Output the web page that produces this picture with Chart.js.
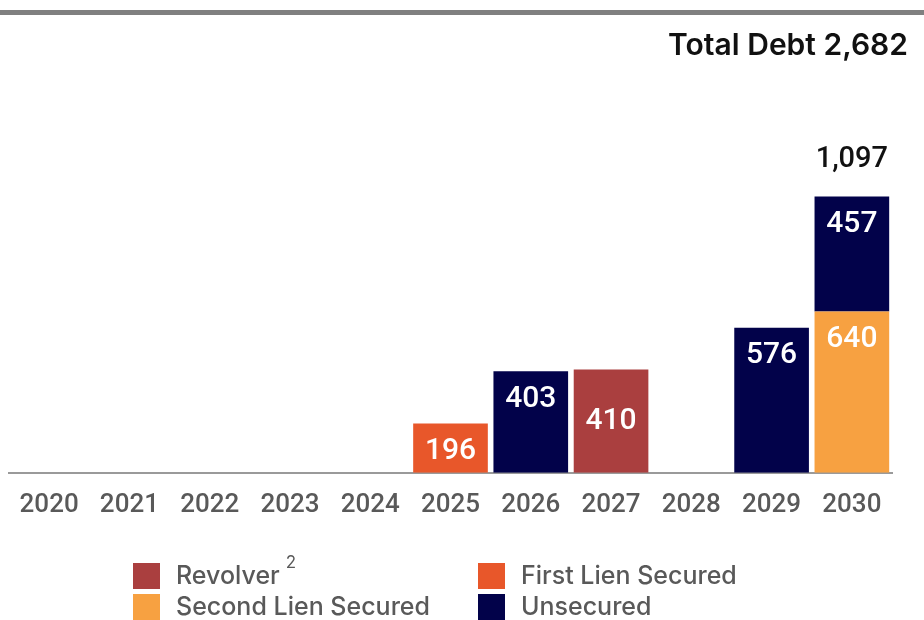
<!DOCTYPE html>
<html>
<head>
<meta charset="utf-8">
<script src="https://cdn.jsdelivr.net/npm/chart.js@4/dist/chart.umd.min.js"></script>
<style>
  html, body { margin: 0; padding: 0; background: #fff; }
  #wrap { width: 924px; height: 620px; position: relative; }
</style>
</head>
<body>
<div id="wrap"><canvas id="debtChart"></canvas></div>
<script>
// maturity years
const years = ['2020','2021','2022','2023','2024','2025','2026','2027','2028','2029','2030'];

// series values (null = no maturity that year)
const revolver   = [null, null, null, null, null, null, null, 410, null, null, null];
const firstLien  = [null, null, null, null, null, 196, null, null, null, null, null];
const secondLien = [null, null, null, null, null, null, null, null, null, null, 640];
const unsecured  = [null, null, null, null, null, null, 403, null, null, 576, 457];

const seriesNames = ['Revolver', 'First Lien Secured', 'Second Lien Secured', 'Unsecured'];
const seriesColors = ['#AA3F3F', '#E8572A', '#F7A141', '#02024A'];

const NUM_FONT = 'Roboto, "Liberation Sans", sans-serif';
const TXT_FONT = 'Inter, "Open Sans", sans-serif';
const GREY = '#595959';

var allValues = [revolver, firstLien, secondLien, unsecured];
var totalDebt = 0;
allValues.forEach(function(arr) {
  arr.forEach(function(v) { if (v) totalDebt += v; });
});

function fmt(n) {
  return n.toLocaleString('en-US');
}

// draws header rule, title, bar labels, column totals and the 2x2 legend
const decorPlugin = {
  id: 'decor',
  afterDatasetsDraw: function(chart) {
    const ctx = chart.ctx;
    ctx.save();

    // grey rule at top
    ctx.fillStyle = '#808080';
    ctx.fillRect(0, 10, chart.width, 5);

    // title
    ctx.fillStyle = '#111';
    ctx.font = '600 30px ' + TXT_FONT;
    ctx.textAlign = 'right';
    ctx.textBaseline = 'middle';
    ctx.fillText('Total Debt ' + fmt(totalDebt), 908, 46);

    // values inside bars
    ctx.fillStyle = '#fff';
    ctx.font = '500 30px ' + NUM_FONT;
    ctx.textAlign = 'center';
    chart.data.datasets.forEach(function(ds, di) {
      const meta = chart.getDatasetMeta(di);
      meta.data.forEach(function(bar, i) {
        const v = ds.data[i];
        if (!v) return;
        var y;
        if (ds.labelAnchor === 'center') y = (bar.y + bar.base) / 2;
        else y = bar.y + 28;
        ctx.fillText(fmt(v), bar.x, y);
      });
    });

    // totals above stacked columns
    ctx.fillStyle = '#111';
    ctx.font = '500 29px ' + NUM_FONT;
    years.forEach(function(y, i) {
      var sum = 0, count = 0, top = Infinity, x = 0;
      chart.data.datasets.forEach(function(ds, di) {
        const v = ds.data[i];
        if (!v) return;
        sum += v; count++;
        const bar = chart.getDatasetMeta(di).data[i];
        top = Math.min(top, bar.y);
        x = bar.x;
      });
      if (count > 1) ctx.fillText(fmt(sum), x, top - 37);
    });

    // legend
    const cols = [133, 478];
    const rows = [576, 607];
    ctx.textAlign = 'left';
    chart.data.datasets.forEach(function(ds, k) {
      const cx = cols[k % 2];
      const cy = rows[Math.floor(k / 2)];
      ctx.fillStyle = ds.backgroundColor;
      ctx.fillRect(cx, cy - 13, 27, 26);
      ctx.fillStyle = GREY;
      ctx.font = '500 25px ' + TXT_FONT;
      ctx.textBaseline = 'middle';
      ctx.fillText(ds.label, cx + 43, cy);
      if (ds.footnote) {
        const w = ctx.measureText(ds.label).width;
        ctx.font = '17px ' + TXT_FONT;
        ctx.fillText(ds.footnote, cx + 43 + w + 6, cy - 13);
      }
    });

    ctx.restore();
  }
};

const datasets = allValues.map(function(arr, i) {
  return {
    label: seriesNames[i],
    data: arr,
    backgroundColor: seriesColors[i],
    borderWidth: 0,
    barPercentage: 0.93,
    categoryPercentage: 1.0
  };
});
datasets[0].footnote = '2';
datasets[0].labelAnchor = 'center';

const chartCtx = document.getElementById('debtChart').getContext('2d');

const debtChart = new Chart(chartCtx,
{
    type: 'bar',
    plugins: [decorPlugin],
    data:
    {
        labels: years,
        datasets: datasets
    },
    options:
    {
        responsive: true,
        maintainAspectRatio: false,
        animation: false,
        layout:
        {
            padding:
            {
                left: 9,
                right: 32,
                top: 95,
                bottom: 82
            }
        },
        scales:
        {
            x:
            {
                stacked: true,
                grid: { display: false, drawTicks: false },
                border: { display: true, color: '#9a9a9a', width: 2 },
                ticks:
                {
                    color: GREY,
                    padding: 17,
                    maxRotation: 0,
                    autoSkip: false,
                    font: { family: NUM_FONT, size: 26, weight: '500' }
                }
            },
            y:
            {
                stacked: true,
                display: false,
                min: 0,
                max: 1500
            }
        },
        plugins:
        {
            legend: { display: false },
            tooltip: { enabled: false }
        }
    }
});
</script>
</body>
</html>
